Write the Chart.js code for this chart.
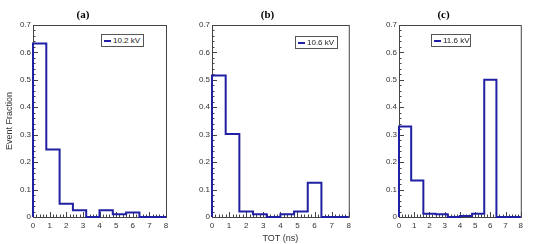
<!DOCTYPE html>
<html>
<head>
<meta charset="utf-8">
<script src="https://cdn.jsdelivr.net/npm/chart.js@4.4.1/dist/chart.umd.min.js"></script>
<style>
  body { margin: 0; background: #fff; }
  #wrap { position: relative; width: 549px; height: 244px; overflow: hidden; }
  canvas { position: absolute; top: 0; }
  .legend {
    position: absolute; height: 13px; box-sizing: border-box;
    border: 1px solid #555; background: #fff;
    font: 8px 'Liberation Sans', Arial, sans-serif; color: #222;
    display: flex; align-items: center; white-space: nowrap;
  }
  .legend i { display: inline-block; width: 7px; height: 2px; background: #2020a4; margin: 0 2px 0 2px; }
</style>
</head>
<body>
<div id="wrap">
  <canvas id="panelA" width="188" height="244" style="left:0px"></canvas>
  <canvas id="panelB" width="173" height="244" style="left:182px"></canvas>
  <canvas id="panelC" width="166" height="244" style="left:361px"></canvas>
  <div class="legend" style="left:101px; top:34px; width:43px"><i></i>10.2 kV</div>
  <div class="legend" style="left:295px; top:36px; width:43px"><i></i>10.6 kV</div>
  <div class="legend" style="left:431px; top:34px; width:40px"><i></i>11.6 kV</div>
</div>
<script>
// --- DATA ---
const binEdges = [0, 0.8, 1.6, 2.4, 3.2, 4.0, 4.8, 5.6, 6.4, 7.2, 8.0];
const fractionA = [0.633, 0.246, 0.048, 0.025, 0, 0.025, 0.01, 0.016, 0, 0];
const fractionB = [0.516, 0.303, 0.02, 0.01, 0, 0.01, 0.02, 0.125, 0, 0];
const fractionC = [0.33, 0.133, 0.012, 0.01, 0, 0.004, 0.012, 0.5, 0, 0];
const panelTitles = ['(a)', '(b)', '(c)'];
const xTitle = 'TOT (ns)';
const yTitle = 'Event Fraction';

const lineBlue = '#2020a4';
const frameColor = '#444';
const tickFont = { family: "'Liberation Sans', Arial, sans-serif", size: 8 };

// histogram outline as step line: (0,0) -> bins -> (8, last)
function histPoints(values) {
    const pts = [{ x: binEdges[0], y: 0 }];
    values.forEach((v, i) => pts.push({ x: binEdges[i], y: v }));
    pts.push({ x: binEdges[binEdges.length - 1], y: values[values.length - 1] });
    return pts;
}

// ROOT-like frame with ticks drawn inside
const rootFrame = {
    id: 'rootFrame',
    beforeDatasetsDraw(chart) {
        const { ctx, chartArea: a, scales: { x, y } } = chart;
        ctx.save();
        ctx.strokeStyle = frameColor;
        ctx.lineWidth = 1;
        ctx.strokeRect(a.left + 0.5, a.top + 0.5, a.right - a.left, a.bottom - a.top);
        ctx.beginPath();
        for (let k = 0; k <= 40; k++) {
            const px = Math.round(x.getPixelForValue(k * 0.2)) + 0.5;
            const len = k % 5 === 0 ? 5 : 2.5;
            ctx.moveTo(px, a.bottom);
            ctx.lineTo(px, a.bottom - len);
        }
        for (let k = 0; k <= 35; k++) {
            const py = Math.round(y.getPixelForValue(k * 0.02)) + 0.5;
            const len = k % 5 === 0 ? 5 : 2.5;
            ctx.moveTo(a.left, py);
            ctx.lineTo(a.left + len, py);
        }
        ctx.stroke();
        ctx.restore();
    }
};

function makePanel(canvasId, values, title, cfg) {
    return new Chart(document.getElementById(canvasId), {
        type: 'line',
        data: {
            datasets: [{
                data: histPoints(values),
                stepped: 'before', // najpierw poziomo, potem pionowo
                borderColor: lineBlue,
                borderWidth: 2,
                pointRadius: 0,
                fill: false,
                clip: false
            }]
        },
        options: {
            responsive: false,
            animation: false,
            layout: { padding: { left: 0, right: cfg.padRight, top: 0, bottom: 0 } },
            plugins: {
                legend: { display: false },
                tooltip: { enabled: false },
                title: {
                    display: true,
                    text: title,
                    color: '#000',
                    font: { family: "'Liberation Serif', 'Times New Roman', serif", size: 11, weight: 'bold', lineHeight: '13px' },
                    padding: { top: 9, bottom: 3 }
                }
            },
            scales: {
                x: {
                    type: 'linear',
                    min: 0,
                    max: 8,
                    grid: { display: false, drawTicks: false },
                    border: { display: false },
                    ticks: { stepSize: 1, padding: 4, color: '#333', font: tickFont, maxRotation: 0 },
                    title: {
                        display: cfg.xTitle,
                        text: xTitle,
                        color: '#333',
                        font: { family: "'Liberation Sans', Arial, sans-serif", size: 9 },
                        padding: { top: 0, bottom: 0 }
                    },
                    afterFit: s => { s.height = 27; }
                },
                y: {
                    min: 0,
                    max: 0.7,
                    grid: { display: false, drawTicks: false },
                    border: { display: false },
                    ticks: {
                        stepSize: 0.1,
                        padding: 2,
                        color: '#333',
                        font: tickFont,
                        callback: v => (Math.abs(v) < 1e-9 ? '0' : v.toFixed(1))
                    },
                    title: {
                        display: cfg.yTitle,
                        text: yTitle,
                        color: '#333',
                        font: { family: "'Liberation Sans', Arial, sans-serif", size: 9 },
                        padding: { top: 4, bottom: 0 }
                    },
                    afterFit: s => { s.width = cfg.yWidth; }
                }
            }
        },
        plugins: [rootFrame]
    });
}

makePanel('panelA', fractionA, panelTitles[0], { yWidth: 33, padRight: 22, xTitle: false, yTitle: true });
makePanel('panelB', fractionB, panelTitles[1], { yWidth: 30, padRight: 2, xTitle: true, yTitle: false });
makePanel('panelC', fractionC, panelTitles[2], { yWidth: 38, padRight: 1, xTitle: false, yTitle: false });
</script>
</body>
</html>
